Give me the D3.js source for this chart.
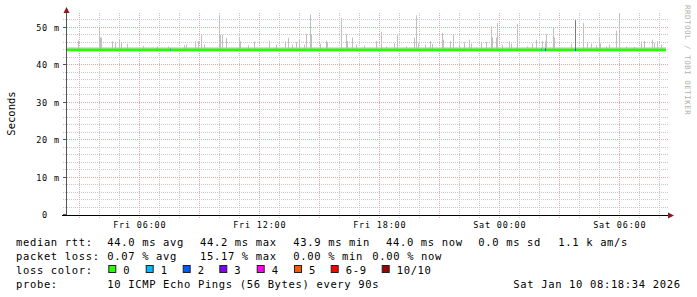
<!DOCTYPE html>
<html>
<head>
<meta charset="utf-8">
<script src="https://cdn.jsdelivr.net/npm/d3@7"></script>
<style>
  body { margin: 0; background: #fff; }
  text { font-family: "DejaVu Sans Mono", monospace; fill: #000; }
</style>
</head>
<body>
<div id="chart"></div>
<script>
var width = 697;
var height = 297;

// time window shown (30 hours)
var startTime = new Date(2026, 0, 9, 2, 18, 34);
var endTime = new Date(2026, 0, 10, 8, 18, 34);

// y ticks (ms)
var yTicks = [0, 10, 20, 30, 40, 50];

// median rtt (ms) as flat level
var medianRtt = 44.0;

// base smoke band just above the median (ms)
var smokeBand = [44.2, 44.7];

// smoke spikes: minutes after start, top value in ms
var spikeMinutes = [38, 100, 103, 106, 140, 147, 160, 165, 183, 231, 273, 306, 354, 360, 387, 396, 405, 415,
  460, 463, 468, 480, 520, 523, 546, 565, 610, 630, 657, 667, 680, 690, 700, 715, 720, 732, 736, 762,
  780, 785, 825, 840, 845, 858, 870, 895, 931, 945, 960, 985, 995, 1020, 1045, 1050, 1056, 1080, 1092,
  1100, 1128, 1132, 1152, 1162, 1180, 1195, 1210, 1215, 1245, 1260, 1275, 1280, 1292, 1295, 1310, 1330,
  1335, 1355, 1385, 1400, 1410, 1430, 1437, 1440, 1462, 1465, 1515, 1552, 1565, 1575, 1590, 1600, 1603,
  1620, 1630, 1650, 1660, 1680, 1704, 1725, 1735, 1760, 1765, 1775, 1785];
var spikeValues = [46.5, 50.1, 47.3, 47.3, 46.3, 46.0, 46.7, 45.9, 45.6, 45.0, 44.9, 44.9, 45.2, 45.4, 46.3, 46.3, 47.9, 45.4,
  53.2, 48.0, 48.0, 47.2, 47.3, 46.3, 45.2, 46.2, 46.4, 45.4, 46.3, 47.2, 45.4, 46.1, 46.7, 45.4, 48.2, 53.4, 48.2, 45.6,
  46.4, 46.1, 52.5, 48.2, 46.3, 47.3, 45.4, 45.1, 46.3, 48.8, 44.9, 45.8, 48.0, 44.9, 47.3, 53.2, 45.8, 45.4, 46.3,
  45.6, 48.5, 46.7, 46.3, 48.0, 45.4, 46.0, 46.7, 45.6, 46.1, 46.1, 50.3, 47.3, 47.3, 51.2, 45.4, 46.3,
  45.6, 50.9, 44.9, 45.6, 46.7, 46.3, 46.3, 48.2, 50.1, 47.3, 45.6, 51.2, 46.1, 45.6, 45.2, 47.3, 45.8,
  44.9, 45.4, 49.1, 53.8, 44.9, 44.7, 46.2, 46.3, 46.7, 45.8, 46.3, 45.4];

// dense smoke spike (many pings high)
var darkSpikeMinutes = [1528];
var darkSpikeValues = [51.9];

// loss events on the median line: minutes after start, lost pings
var lossMinutes = [312, 1427, 1439, 1528];
var lossCounts = [1, 1, 2, 2];

// loss colours
var lossLabels = ["0", "1", "2", "3", "4", "5", "6-9", "10/10"];
var lossColors = ["#26ff00", "#00b8ff", "#0059ff", "#7e00ff", "#ff00ff", "#ff5500", "#ff0000", "#a10000"];

// legend text
var legendRows = [
  ["median rtt:", "44.0 ms avg", "44.2 ms max", "43.9 ms min", "44.0 ms now", "0.0 ms sd", "1.1 k am/s"],
  ["packet loss:", "0.07 % avg", "15.17 % max", "0.00 % min", "0.00 % now"],
  ["loss color:"],
  ["probe:", "10 ICMP Echo Pings (56 Bytes) every 90s"]
];
var dateStamp = "Sat Jan 10 08:18:34 2026";

window.onload = start;

function start() {
  var left = 66, right = 666, top = 13, bottom = 215;

  var xScale = d3.scaleTime().domain([startTime, endTime]).range([left, right]);
  var yScale = d3.scaleLinear().domain([0, 50]).range([214.8, 27.3]);

  var px = function(v) { return Math.floor(v) + 0.5; };
  var minToDate = function(m) { return new Date(startTime.getTime() + m * 60000); };

  var chart = d3.select("#chart")
    .append("svg")
    .attr("width", width)
    .attr("height", height);

  chart.append("rect").attr("width", width).attr("height", height).attr("fill", "#fff");

  // minor grid
  var minorY = d3.range(2, 53, 2).filter(function(v) { return v % 10 != 0; });
  chart.append("g").selectAll("line")
    .data(minorY).enter().append("line")
    .attr("x1", 63).attr("x2", 668)
    .attr("y1", function(d) { return px(yScale(d)); })
    .attr("y2", function(d) { return px(yScale(d)); })
    .attr("stroke", "#c8c8c8").attr("stroke-dasharray", "1,1");

  var hours = d3.timeHour.every(1).range(startTime, endTime);
  var minorX = hours.filter(function(d) { return d.getHours() % 3 != 0; });
  var majorX = hours.filter(function(d) { return d.getHours() % 3 == 0; });

  chart.append("g").selectAll("line")
    .data(minorX).enter().append("line")
    .attr("x1", function(d) { return px(xScale(d)); })
    .attr("x2", function(d) { return px(xScale(d)); })
    .attr("y1", top).attr("y2", 218)
    .attr("stroke", "#c8c8c8").attr("stroke-dasharray", "1,1");

  // major grid
  chart.append("g").selectAll("line")
    .data(yTicks.filter(function(v) { return v > 0; })).enter().append("line")
    .attr("x1", 63).attr("x2", 668)
    .attr("y1", function(d) { return px(yScale(d)); })
    .attr("y2", function(d) { return px(yScale(d)); })
    .attr("stroke", "#e0a8a8").attr("stroke-dasharray", "1,1");

  chart.append("g").selectAll("line")
    .data(majorX).enter().append("line")
    .attr("x1", function(d) { return px(xScale(d)); })
    .attr("x2", function(d) { return px(xScale(d)); })
    .attr("y1", top).attr("y2", 219)
    .attr("stroke", "#e0a8a8").attr("stroke-dasharray", "1,1");

  // base smoke
  chart.append("rect")
    .attr("x", left).attr("width", right - left)
    .attr("y", yScale(smokeBand[1]))
    .attr("height", yScale(smokeBand[0]) - yScale(smokeBand[1]))
    .attr("fill", "#d4d4d4");

  // smoke spikes
  chart.append("g").selectAll("rect")
    .data(spikeMinutes).enter().append("rect")
    .attr("x", function(d) { return Math.floor(xScale(minToDate(d))); })
    .attr("width", 1)
    .attr("y", function(d, i) { return yScale(spikeValues[i]); })
    .attr("height", function(d, i) { return yScale(smokeBand[0]) - yScale(spikeValues[i]); })
    .attr("fill", "#c0c0c0");

  chart.append("g").selectAll("rect")
    .data(darkSpikeMinutes).enter().append("rect")
    .attr("x", function(d) { return Math.floor(xScale(minToDate(d))); })
    .attr("width", 1)
    .attr("y", function(d, i) { return yScale(darkSpikeValues[i]); })
    .attr("height", function(d, i) { return yScale(smokeBand[0]) - yScale(darkSpikeValues[i]); })
    .attr("fill", "#7a7a7a");

  // median line
  var line = d3.line()
    .x(function(d) { return xScale(d); })
    .y(function() { return yScale(medianRtt); });
  chart.append("path")
    .datum([startTime, endTime])
    .attr("d", line)
    .attr("fill", "none")
    .attr("stroke", lossColors[0])
    .attr("stroke-width", 2.7);

  // loss colour on the median
  chart.append("g").selectAll("rect")
    .data(lossMinutes).enter().append("rect")
    .attr("x", function(d) { return Math.floor(xScale(minToDate(d))); })
    .attr("width", 1)
    .attr("y", yScale(medianRtt) - 1.35)
    .attr("height", 2.7)
    .attr("fill", function(d, i) { return lossColors[lossCounts[i]]; });

  // axes
  chart.append("line")
    .attr("x1", 66.5).attr("x2", 66.5).attr("y1", 10).attr("y2", 216)
    .attr("stroke", "#555");
  chart.append("line")
    .attr("x1", 62).attr("x2", 669).attr("y1", 215.5).attr("y2", 215.5)
    .attr("stroke", "#000");
  chart.append("g").selectAll("line")
    .data(yTicks).enter().append("line")
    .attr("x1", 63).attr("x2", 66)
    .attr("y1", function(d) { return px(yScale(d)); })
    .attr("y2", function(d) { return px(yScale(d)); })
    .attr("stroke", "#555");

  // arrows
  chart.append("path").attr("d", "M63.5,13 L66.5,7 L69.5,13 Z").attr("fill", "#8b1a1a");
  chart.append("path").attr("d", "M668,212.5 L674,215.5 L668,218.5 Z").attr("fill", "#8b1a1a");

  // y tick labels
  var yl = chart.append("g").style("font-size", "8.5px").style("letter-spacing", "0.8px");
  yl.selectAll("text.num")
    .data(yTicks).enter().append("text")
    .attr("class", "num")
    .attr("x", 48).attr("y", function(d) { return yScale(d) + 3.5; })
    .attr("text-anchor", "end")
    .text(function(d) { return d; });
  yl.selectAll("text.sfx")
    .data(yTicks.filter(function(v) { return v > 0; })).enter().append("text")
    .attr("class", "sfx")
    .attr("x", 54).attr("y", function(d) { return yScale(d) + 3.5; })
    .text("m");

  // x tick labels
  var labelTimes = hours.filter(function(d) { return d.getHours() % 6 == 0; });
  var fmt = d3.timeFormat("%a %H:%M");
  chart.append("g").style("font-size", "8.5px").style("letter-spacing", "0.8px")
    .selectAll("text")
    .data(labelTimes).enter().append("text")
    .attr("x", function(d) { return xScale(d); })
    .attr("y", 228)
    .attr("text-anchor", "middle")
    .text(function(d) { return fmt(d); });

  // y axis title
  chart.append("text")
    .attr("transform", "translate(15,113.5) rotate(-90)")
    .attr("text-anchor", "middle")
    .style("font-size", "10.5px")
    .text("Seconds");

  // watermark
  chart.append("text")
    .attr("transform", "translate(684.5,5) rotate(90)")
    .style("font-size", "7.5px")
    .style("letter-spacing", "0.5px")
    .style("fill", "#b0b0b0")
    .text("RRDTOOL / TOBI OETIKER");

  // legend
  var rowY = [245.5, 259.5, 273.5, 287.5];
  var colX = [
    [16, 107.3, 200, 293.3, 386, 478.3, 558.3],
    [16, 107.3, 200, 293.3, 372.3],
    [16],
    [16, 107.3]
  ];
  var legend = chart.append("g").style("font-size", "10.5px").style("letter-spacing", "0.65px");
  legendRows.forEach(function(row, r) {
    legend.selectAll("text.r" + r)
      .data(row).enter().append("text")
      .attr("class", "r" + r)
      .attr("x", function(d, i) { return colX[r][i]; })
      .attr("y", rowY[r])
      .text(function(d) { return d; });
  });
  legend.append("text")
    .attr("x", 513.3).attr("y", rowY[3])
    .text(dateStamp);

  var boxX = [108.3, 145.7, 182.7, 219.3, 256.7, 294, 330.7, 381.7];
  legend.selectAll("rect.box")
    .data(lossColors).enter().append("rect")
    .attr("class", "box")
    .attr("x", function(d, i) { return boxX[i] + 0.5; })
    .attr("y", 265.5)
    .attr("width", 7).attr("height", 7)
    .attr("fill", function(d) { return d; })
    .attr("stroke", "#222").attr("stroke-width", 1);
  legend.selectAll("text.lbl")
    .data(lossLabels).enter().append("text")
    .attr("class", "lbl")
    .attr("x", function(d, i) { return boxX[i] + 15; })
    .attr("y", rowY[2])
    .text(function(d) { return d; });
}
</script>
</body>
</html>
